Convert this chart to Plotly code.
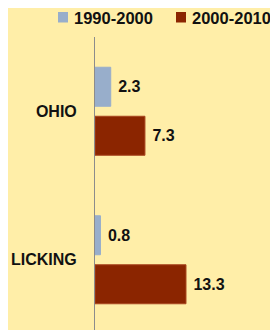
import plotly.graph_objects as go

categories = ["OHIO", "LICKING"]
series_names = ["1990-2000", "2000-2010"]
values_1990_2000 = [2.3, 0.8]
values_2000_2010 = [7.3, 13.3]

colors = ["#98AECB", "#8B2500"]
edge_colors = ["#98AECB", "#A8461F"]
FONT = "Liberation Sans, Arial, sans-serif"

# page has an 8px body margin: figure sits at (8, 8) in the 278x330 window
OFF = 8
W, H = 278 - OFF, 330 - OFF
L, T = 95 - OFF, 37 - OFF
PW, PH = W - L, H - T

def px_x(px):
    return (px - OFF - L) / PW

def px_y(py):
    return 1 - (py - OFF - T) / PH

fig = go.Figure()
for name, vals, col, ecol in zip(series_names, [values_1990_2000, values_2000_2010], colors, edge_colors):
    fig.add_trace(go.Bar(
        y=categories, x=vals, name=name, orientation="h",
        marker=dict(color=col, line=dict(width=1, color=ecol)),
        text=[" " + f"{v:.1f}" for v in vals],
        textposition="outside", cliponaxis=False,
        textfont=dict(family=FONT, size=16, color="#111111", weight="bold"),
        showlegend=False,
    ))

# manual legend (square + label) built from series names/colours
legend_sq_x = [58, 176]
for name, col, sx in zip(series_names, colors, legend_sq_x):
    fig.add_shape(type="rect", xref="paper", yref="paper",
                  x0=px_x(sx), x1=px_x(sx + 10), y0=px_y(22.5), y1=px_y(12),
                  fillcolor=col, line=dict(width=0))
    fig.add_annotation(xref="paper", yref="paper", x=px_x(sx + 14), y=px_y(17.5),
                       xanchor="left", yanchor="middle", showarrow=False,
                       text=name,
                       font=dict(family=FONT, size=16.5, color="#111111", weight="bold"))

fig.update_layout(
    width=W, height=H,
    margin=dict(l=L, r=0, t=T, b=0, pad=0, autoexpand=False),
    paper_bgcolor="#FFEEA8", plot_bgcolor="#FFEEA8",
    barmode="group", bargap=0.34, bargroupgap=0.204,
    showlegend=False,
    font=dict(family=FONT, color="#111111"),
)
fig.update_xaxes(range=[0, 26.75], showgrid=False, zeroline=False, showticklabels=False,
                 showline=False, automargin=False)
fig.update_yaxes(autorange=False, range=[1.473, -0.5], showgrid=False, zeroline=False,
                 showline=True, linecolor="#8C8C8C", linewidth=1, ticks="",
                 ticklabelstandoff=14, automargin=False,
                 tickfont=dict(family=FONT, size=16, color="#111111", weight="bold"))

fig.write_html("out.html")
